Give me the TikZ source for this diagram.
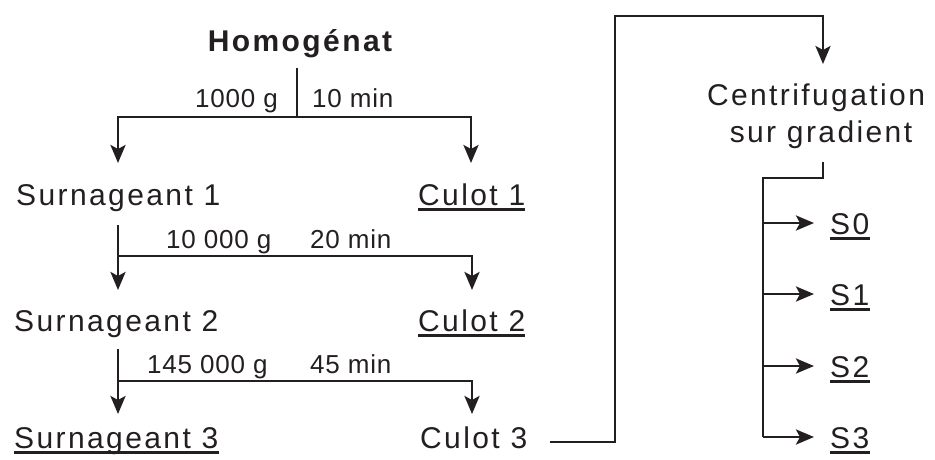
\documentclass[tikz,border=0pt]{standalone}
\usepackage{fontspec}
\setmainfont{Liberation Sans}
\newfontfamily\mainf{Liberation Sans}[LetterSpace=8]
\newfontfamily\labf{Liberation Sans}[LetterSpace=3]
\newfontfamily\homf{Liberation Sans}[LetterSpace=8]
\usetikzlibrary{arrows.meta}
\definecolor{ink}{RGB}{35,31,32}
\tikzset{
  ln/.style={line width=2.8pt, draw=ink},
  arr/.style={ln, -{Stealth[length=18pt,width=15pt,inset=4pt]}},
  big/.style={inner sep=0pt, text=ink, font=\mainf\fontsize{30}{37}\selectfont, anchor=base west},
  lab/.style={inner sep=0pt, text=ink, font=\labf\fontsize{26}{30}\selectfont, anchor=base west},
  ul/.style={line width=2.4pt, draw=ink}
}
\newcommand{\uline}[1]{\draw[ul] ([yshift=-4.5pt]#1.base west) -- ([yshift=-4.5pt]#1.base east);}
\begin{document}
\begin{tikzpicture}[x=1pt,y=-1pt]
\useasboundingbox (0,0) rectangle (935,459);
% title
\node[inner sep=0pt, text=ink, font=\homf\bfseries\fontsize{30}{36}\selectfont, anchor=base] (hom) at (300,51) {Homogénat};
% step 1
\coordinate (h0) at (297,68);
\coordinate (j1) at (297,117);
\coordinate (a1) at (118,163);
\coordinate (b1) at (471,163);
\draw[ln] (h0) -- (j1);
\draw[arr] (j1) -| (a1);
\draw[arr] (j1) -| (b1);
\node[lab, anchor=base east] (l1a) at (278,107) {1000 g};
\node[lab] (l1b) at (312,107) {10 min};
\node[big] (su1) at (16,205) {Surnageant 1};
\node[big] (cu1) at (418,205) {Culot 1};
\uline{cu1}
% step 2
\coordinate (s2) at (118,225);
\coordinate (j2) at (118,256);
\coordinate (a2) at (118,290);
\coordinate (b2) at (472,290);
\draw[arr] (s2) -- (a2);
\draw[arr] (j2) -| (b2);
\node[lab] (l2a) at (166,248) {10 000 g};
\node[lab] (l2b) at (310,248) {20 min};
\node[big] (su2) at (14,331) {Surnageant 2};
\node[big] (cu2) at (418,331) {Culot 2};
\uline{cu2}
% step 3
\coordinate (s3) at (118,349);
\coordinate (j3) at (118,381);
\coordinate (a3) at (118,414);
\coordinate (b3) at (472,414);
\draw[arr] (s3) -- (a3);
\draw[arr] (j3) -| (b3);
\node[lab] (l3a) at (147,373) {145 000 g};
\node[lab] (l3b) at (310,373) {45 min};
\node[big] (su3) at (14,448) {Surnageant 3};
\uline{su3}
\node[big] (cu3) at (420,448) {Culot 3};
% transfer to gradient
\coordinate (c3e) at (550,442);
\coordinate (k1) at (615,16);
\coordinate (k2) at (823,64);
\draw[arr] (c3e) -| (k1) -| (k2);
\node[big, anchor=base] (cen1) at (816,105) {Centrifugation};
\node[big, anchor=base] (cen2) at (821,142) {sur gradient};
% gradient fractions
\coordinate (g0) at (823,162);
\coordinate (g1) at (763,178);
\coordinate (g2) at (763,437);
\draw[ln] (g0) |- (g1) -- (g2);
\foreach \i/\yy in {0/223,1/294,2/366,3/437}{
  \coordinate (t\i) at (763,\yy);
  \coordinate (e\i) at (814,\yy);
  \draw[arr] (t\i) -- (e\i);
  \node[big] (s\i) at (830,\yy+11) {S\i};
  \uline{s\i}
}
\end{tikzpicture}
\end{document}
